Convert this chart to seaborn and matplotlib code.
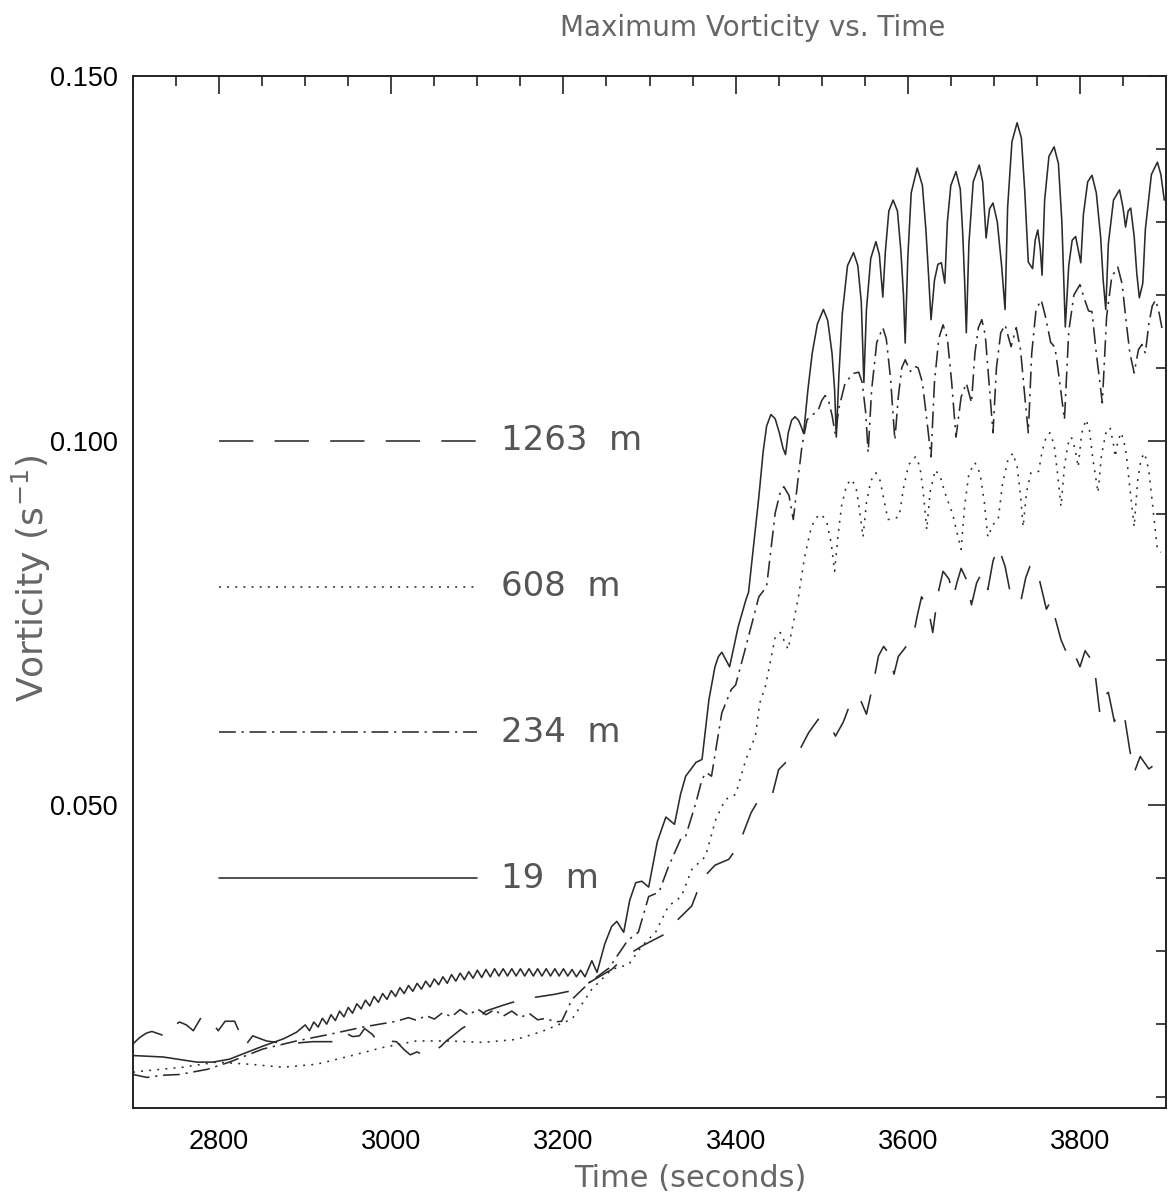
import matplotlib
matplotlib.use("Agg")
import matplotlib.pyplot as plt
import seaborn as sns
import pandas as pd
from matplotlib.ticker import MultipleLocator, FormatStrFormatter

# ---------------- data (time [s], max vorticity [1/s]) ----------------
series_19m = [
    (2700, 0.0157), (2735, 0.0155), (2774, 0.0148), (2793, 0.0148), (2812, 0.0152),
    (2851, 0.0170), (2875, 0.0180), (2890, 0.0189),
    (2900, 0.0199), (2905, 0.0191), (2910, 0.0203), (2915, 0.0196), (2920, 0.0208),
    (2925, 0.0200), (2930, 0.0213), (2935, 0.0205), (2940, 0.0218), (2945, 0.0210),
    (2950, 0.0223), (2955, 0.0215), (2960, 0.0228), (2965, 0.0221), (2970, 0.0233),
    (2975, 0.0225), (2980, 0.0238), (2985, 0.0230), (2990, 0.0242), (2995, 0.0234),
    (3000, 0.0246), (3005, 0.0238), (3010, 0.0250), (3015, 0.0242), (3020, 0.0253),
    (3025, 0.0245), (3030, 0.0256), (3035, 0.0248), (3040, 0.0259), (3045, 0.0251),
    (3050, 0.0262), (3055, 0.0254), (3060, 0.0265), (3065, 0.0256), (3070, 0.0268),
    (3075, 0.0259), (3080, 0.0270), (3085, 0.0261), (3090, 0.0272), (3095, 0.0263),
    (3100, 0.0274), (3105, 0.0264), (3110, 0.0275), (3115, 0.0265), (3120, 0.0276),
    (3125, 0.0266), (3130, 0.0276), (3135, 0.0266), (3140, 0.0276), (3145, 0.0266),
    (3150, 0.0276), (3155, 0.0266), (3160, 0.0276), (3165, 0.0266), (3170, 0.0276),
    (3175, 0.0266), (3180, 0.0276), (3185, 0.0266), (3190, 0.0276), (3195, 0.0266),
    (3200, 0.0276), (3205, 0.0266), (3210, 0.0275), (3215, 0.0265), (3220, 0.0274),
    (3225, 0.0265),
    (3233, 0.0287), (3239, 0.0271), (3248, 0.0310), (3256, 0.0334), (3262, 0.0341),
    (3270, 0.0326), (3277, 0.0370), (3284, 0.0394), (3291, 0.0396), (3299, 0.0388),
    (3309, 0.0450), (3319, 0.0484), (3329, 0.0474), (3336, 0.0515), (3342, 0.0540),
    (3354, 0.0559), (3361, 0.0563), (3369, 0.0645), (3376, 0.0690), (3380, 0.0704),
    (3384, 0.0710), (3393, 0.0690), (3403, 0.0745), (3412, 0.0782), (3415, 0.0792),
    (3427, 0.0923), (3432, 0.0985), (3436, 0.1020), (3441, 0.1036), (3446, 0.1030),
    (3451, 0.1010), (3455, 0.0990), (3458, 0.0981), (3461, 0.1010), (3465, 0.1028),
    (3469, 0.1033), (3473, 0.1028), (3476, 0.1020), (3479, 0.1010),
    (3484, 0.1070), (3489, 0.1120), (3495, 0.1160), (3502, 0.1180), (3507, 0.1165),
    (3512, 0.1120), (3515, 0.1070), (3517, 0.1005), (3520, 0.1090), (3524, 0.1175),
    (3530, 0.1240), (3537, 0.1258), (3542, 0.1240), (3546, 0.1190), (3549, 0.1080),
    (3552, 0.1180), (3557, 0.1250), (3563, 0.1273), (3567, 0.1255), (3571, 0.1197),
    (3574, 0.1260), (3578, 0.1315), (3583, 0.1330), (3588, 0.1315), (3592, 0.1260),
    (3595, 0.1200), (3597, 0.1134), (3600, 0.1250), (3604, 0.1340), (3611, 0.1374),
    (3617, 0.1350), (3621, 0.1290), (3624, 0.1230), (3627, 0.1166), (3631, 0.1220),
    (3635, 0.1242), (3639, 0.1244), (3643, 0.1216), (3646, 0.1300), (3650, 0.1350),
    (3656, 0.1369), (3661, 0.1345), (3664, 0.1280), (3666, 0.1220), (3668, 0.1148),
    (3671, 0.1270), (3676, 0.1355), (3683, 0.1378), (3687, 0.1355), (3691, 0.1278),
    (3695, 0.1318), (3699, 0.1326), (3704, 0.1300), (3709, 0.1240), (3713, 0.1180),
    (3716, 0.1320), (3721, 0.1410), (3727, 0.1436), (3732, 0.1415), (3736, 0.1340),
    (3740, 0.1245), (3745, 0.1236), (3748, 0.1275), (3751, 0.1289), (3754, 0.1262),
    (3756, 0.1227), (3759, 0.1330), (3764, 0.1390), (3770, 0.1403), (3775, 0.1380),
    (3779, 0.1300), (3781, 0.1230), (3783, 0.1156), (3787, 0.1240), (3791, 0.1275),
    (3795, 0.1280), (3798, 0.1262), (3801, 0.1244), (3804, 0.1310), (3809, 0.1355),
    (3814, 0.1364), (3819, 0.1340), (3824, 0.1280), (3827, 0.1220), (3830, 0.1180),
    (3833, 0.1270), (3839, 0.1330), (3846, 0.1344), (3850, 0.1320), (3853, 0.1293),
    (3856, 0.1315), (3859, 0.1319), (3863, 0.1280), (3866, 0.1230), (3869, 0.1196),
    (3873, 0.1216), (3876, 0.1290), (3883, 0.1365), (3890, 0.1382), (3894, 0.1365),
    (3898, 0.1330),
]

series_234m = [
    (2700, 0.0131), (2716, 0.0127), (2735, 0.0130), (2754, 0.0131), (2786, 0.0138),
    (2812, 0.0148), (2851, 0.0166), (2890, 0.0177), (2928, 0.0186), (2967, 0.0196),
    (3006, 0.0204), (3020, 0.0209), (3030, 0.0205), (3040, 0.0212), (3050, 0.0207),
    (3060, 0.0216), (3070, 0.0210), (3080, 0.0220), (3090, 0.0212), (3100, 0.0221),
    (3110, 0.0213), (3120, 0.0220), (3130, 0.0211), (3140, 0.0218), (3150, 0.0209),
    (3160, 0.0215), (3170, 0.0206), (3180, 0.0208), (3190, 0.0203), (3198, 0.0204),
    (3210, 0.0234), (3230, 0.0257), (3253, 0.0277), (3273, 0.0312), (3280, 0.0320),
    (3287, 0.0326), (3299, 0.0375), (3311, 0.0381), (3322, 0.0416), (3337, 0.0456),
    (3342, 0.0458), (3354, 0.0504), (3361, 0.0536), (3366, 0.0545), (3372, 0.0540),
    (3384, 0.0627), (3395, 0.0659), (3400, 0.0665), (3412, 0.0718), (3427, 0.0786),
    (3436, 0.0800), (3446, 0.0901), (3452, 0.0930), (3456, 0.0937), (3462, 0.0925),
    (3467, 0.0892), (3477, 0.0992), (3483, 0.1029), (3496, 0.1042), (3500, 0.1055),
    (3504, 0.1062), (3508, 0.1055), (3512, 0.1035), (3516, 0.1008), (3520, 0.1045),
    (3527, 0.1078), (3536, 0.1092), (3543, 0.1094), (3547, 0.1080), (3551, 0.1040),
    (3554, 0.0984), (3558, 0.1070), (3564, 0.1135), (3571, 0.1155), (3575, 0.1140),
    (3580, 0.1085), (3585, 0.1001), (3589, 0.1060), (3593, 0.1100), (3597, 0.1111),
    (3603, 0.1095), (3608, 0.1102), (3612, 0.1100), (3617, 0.1080), (3622, 0.1030),
    (3627, 0.0978), (3631, 0.1080), (3636, 0.1140), (3641, 0.1159), (3646, 0.1140),
    (3651, 0.1080), (3656, 0.1005), (3662, 0.1060), (3668, 0.1079), (3674, 0.1052),
    (3678, 0.1120), (3682, 0.1155), (3686, 0.1166), (3690, 0.1145), (3695, 0.1070),
    (3699, 0.1011), (3703, 0.1100), (3708, 0.1148), (3713, 0.1159), (3720, 0.1129),
    (3726, 0.1155), (3731, 0.1125), (3736, 0.1060), (3740, 0.1011), (3744, 0.1120),
    (3749, 0.1180), (3755, 0.1193), (3760, 0.1170), (3766, 0.1135), (3771, 0.1128),
    (3776, 0.1085), (3782, 0.1029), (3787, 0.1150), (3793, 0.1200), (3800, 0.1214),
    (3805, 0.1195), (3810, 0.1178), (3814, 0.1177), (3819, 0.1120), (3826, 0.1052),
    (3831, 0.1170), (3837, 0.1225), (3844, 0.1238), (3849, 0.1215), (3854, 0.1160),
    (3858, 0.1120), (3863, 0.1093), (3868, 0.1125), (3872, 0.1132), (3876, 0.1120),
    (3880, 0.1160), (3884, 0.1185), (3888, 0.1193), (3892, 0.1175), (3896, 0.1150),
]

series_608m = [
    (2700, 0.0134), (2705, 0.0135), (2758, 0.0141), (2797, 0.0148), (2836, 0.0145),
    (2874, 0.0141), (2913, 0.0145), (2951, 0.0156), (2990, 0.0168), (3029, 0.0177),
    (3067, 0.0177), (3106, 0.0175), (3145, 0.0179), (3175, 0.0190), (3210, 0.0207),
    (3233, 0.0248), (3256, 0.0275), (3276, 0.0282), (3291, 0.0307), (3307, 0.0326),
    (3322, 0.0362), (3337, 0.0375), (3349, 0.0412), (3365, 0.0430), (3377, 0.0481),
    (3388, 0.0508), (3400, 0.0515), (3412, 0.0563), (3423, 0.0595), (3428, 0.0640),
    (3435, 0.0665), (3446, 0.0731), (3452, 0.0737), (3461, 0.0714), (3473, 0.0786),
    (3480, 0.0840), (3488, 0.0882), (3494, 0.0895), (3500, 0.0899), (3506, 0.0888),
    (3511, 0.0860), (3515, 0.0821), (3519, 0.0870), (3523, 0.0910), (3529, 0.0940),
    (3535, 0.0947), (3540, 0.0935), (3544, 0.0905), (3548, 0.0868), (3552, 0.0915),
    (3557, 0.0945), (3563, 0.0956), (3568, 0.0945), (3573, 0.0915), (3577, 0.0892),
    (3584, 0.0893), (3590, 0.0896), (3595, 0.0935), (3601, 0.0967), (3609, 0.0978),
    (3614, 0.0965), (3618, 0.0930), (3622, 0.0878), (3626, 0.0930), (3632, 0.0960),
    (3638, 0.0950), (3643, 0.0929), (3652, 0.0900), (3657, 0.0875), (3662, 0.0851),
    (3666, 0.0910), (3671, 0.0955), (3678, 0.0970), (3684, 0.0955), (3689, 0.0915),
    (3693, 0.0868), (3699, 0.0885), (3705, 0.0892), (3710, 0.0940), (3716, 0.0972),
    (3722, 0.0983), (3727, 0.0965), (3731, 0.0925), (3734, 0.0882), (3738, 0.0930),
    (3743, 0.0956), (3752, 0.0958), (3756, 0.0985), (3760, 0.1002), (3765, 0.1011),
    (3770, 0.0995), (3774, 0.0955), (3778, 0.0910), (3782, 0.0965), (3786, 0.0995),
    (3790, 0.1005), (3794, 0.0990), (3798, 0.0964), (3802, 0.1010), (3807, 0.1029),
    (3811, 0.1015), (3815, 0.0975), (3821, 0.0929), (3825, 0.0980), (3830, 0.1010),
    (3835, 0.1018), (3839, 0.0995), (3841, 0.0978), (3844, 0.1000), (3848, 0.1011),
    (3853, 0.0990), (3858, 0.0935), (3863, 0.0882), (3867, 0.0945), (3871, 0.0975),
    (3875, 0.0983), (3880, 0.0960), (3885, 0.0905), (3890, 0.0851), (3894, 0.0847),
]

series_1263m = [
    (2700, 0.0173), (2708, 0.0182), (2716, 0.0188), (2722, 0.0190), (2739, 0.0183),
    (2746, 0.0197), (2754, 0.0203), (2762, 0.0199), (2770, 0.0191), (2780, 0.0211),
    (2788, 0.0208), (2799, 0.0191), (2807, 0.0204), (2818, 0.0204), (2824, 0.0188),
    (2830, 0.0170), (2839, 0.0184), (2855, 0.0177), (2878, 0.0173), (2909, 0.0176),
    (2938, 0.0176), (2945, 0.0189), (2955, 0.0183), (2963, 0.0184), (2969, 0.0194),
    (2978, 0.0186), (2986, 0.0173), (2996, 0.0177), (3006, 0.0176), (3015, 0.0165),
    (3022, 0.0158), (3030, 0.0162), (3038, 0.0157), (3048, 0.0161), (3058, 0.0170),
    (3064, 0.0177), (3082, 0.0194), (3100, 0.0207), (3110, 0.0218), (3130, 0.0226),
    (3152, 0.0234), (3168, 0.0237), (3190, 0.0241), (3210, 0.0246), (3230, 0.0257),
    (3256, 0.0275), (3272, 0.0293), (3291, 0.0307), (3299, 0.0312), (3322, 0.0326),
    (3330, 0.0340), (3349, 0.0362), (3361, 0.0399), (3376, 0.0418), (3392, 0.0426),
    (3403, 0.0444), (3418, 0.0490), (3427, 0.0508), (3442, 0.0512), (3450, 0.0549),
    (3465, 0.0567), (3473, 0.0573), (3485, 0.0600), (3496, 0.0618), (3508, 0.0614),
    (3516, 0.0595), (3525, 0.0614), (3534, 0.0642), (3540, 0.0649), (3546, 0.0642),
    (3552, 0.0625), (3560, 0.0668), (3566, 0.0705), (3572, 0.0718), (3578, 0.0708),
    (3584, 0.0680), (3589, 0.0704), (3606, 0.0730), (3611, 0.0760), (3616, 0.0786),
    (3624, 0.0769), (3629, 0.0737), (3635, 0.0790), (3641, 0.0821), (3648, 0.0810),
    (3653, 0.0786), (3657, 0.0805), (3662, 0.0825), (3668, 0.0810), (3674, 0.0775),
    (3680, 0.0805), (3686, 0.0819), (3693, 0.0796), (3699, 0.0835), (3705, 0.0855),
    (3713, 0.0828), (3719, 0.0792), (3731, 0.0778), (3737, 0.0812), (3742, 0.0828),
    (3746, 0.0830), (3751, 0.0819), (3761, 0.0769), (3766, 0.0780), (3778, 0.0727),
    (3786, 0.0705), (3792, 0.0712), (3800, 0.0690), (3806, 0.0712), (3813, 0.0700),
    (3818, 0.0677), (3823, 0.0627), (3828, 0.0650), (3833, 0.0655), (3840, 0.0615),
    (3846, 0.0630), (3852, 0.0620), (3858, 0.0575), (3863, 0.0545), (3870, 0.0567),
    (3880, 0.0550), (3886, 0.0555), (3892, 0.0530),
]

labels = ["1263  m", "608  m", "234  m", "19  m"]
label_y = [0.100, 0.080, 0.060, 0.040]
key_x = [2800, 3100]
label_x = 3128
x_major = [2800, 3000, 3200, 3400, 3600, 3800]
y_major = [0.050, 0.100, 0.150]

# ---------------- styling ----------------
sns.set_theme(style="white")
plt.rcParams["font.family"] = ["DejaVu Sans"]
plt.rcParams["axes.linewidth"] = 1.3

LW = 1.15
LINE_COLOR = "#2b2b2b"
dash_styles = [
    (0, (21.5, 13.3)),             # 1263 m : long dashes
    (0, (1.2, 3.9)),               # 608 m  : dotted
    (0, (10.5, 3.6, 1.4, 3.6)),    # 234 m  : dash-dot
    "-",                           # 19 m   : solid
]
series_list = [series_1263m, series_608m, series_234m, series_19m]

fig = plt.figure(figsize=(11.7, 12.04), dpi=100)
ax = fig.add_axes([0.1137, 0.0797, 0.8829, 0.8571])

for name, data, ls, yk in zip(labels, series_list, dash_styles, label_y):
    df = pd.DataFrame(data, columns=["time", "vort"])
    sns.lineplot(data=df, x="time", y="vort", ax=ax, estimator=None, sort=False,
                 color=LINE_COLOR, linewidth=LW, linestyle=ls)
    kdf = pd.DataFrame({"time": key_x, "vort": [yk, yk]})
    sns.lineplot(data=kdf, x="time", y="vort", ax=ax, estimator=None, sort=False,
                 color=LINE_COLOR, linewidth=LW, linestyle=ls)
    ax.text(label_x, yk, name, fontsize=24.5, color="#555555", va="center", ha="left")

ax.set_xlim(2700, 3900)
ax.set_ylim(0.0085, 0.150)
ax.set_xticks(x_major)
ax.set_yticks(y_major)
ax.xaxis.set_minor_locator(MultipleLocator(50))
ax.yaxis.set_minor_locator(MultipleLocator(0.01))
ax.yaxis.set_major_formatter(FormatStrFormatter("%.3f"))
ax.set_xlabel("")
ax.set_ylabel("")

ax.tick_params(axis="both", which="both", direction="in", top=True, right=True,
               colors="#222222", width=1.2)
ax.tick_params(axis="both", which="major", length=13)
ax.tick_params(axis="both", which="minor", length=7)
ax.tick_params(axis="x", which="major", pad=15)
ax.tick_params(axis="y", which="major", pad=11)
for lab in ax.get_xticklabels() + ax.get_yticklabels():
    lab.set_fontfamily("Liberation Sans")
    lab.set_fontsize(19.5)
    lab.set_color("black")
for sp in ax.spines.values():
    sp.set_color("#222222")
    sp.set_linewidth(1.4)

fig.text(0.643, 0.977, "Maximum Vorticity vs. Time", fontsize=20, color="#666666",
         ha="center", va="center")
fig.text(0.590, 0.021, "Time (seconds)", fontsize=22, color="#666666",
         ha="center", va="center")
fig.text(0.027, 0.52, "Vorticity (s$^{-1}$)", fontsize=26, color="#666666",
         ha="center", va="center", rotation=90)

fig.savefig("out.png", dpi=100, facecolor="white")
